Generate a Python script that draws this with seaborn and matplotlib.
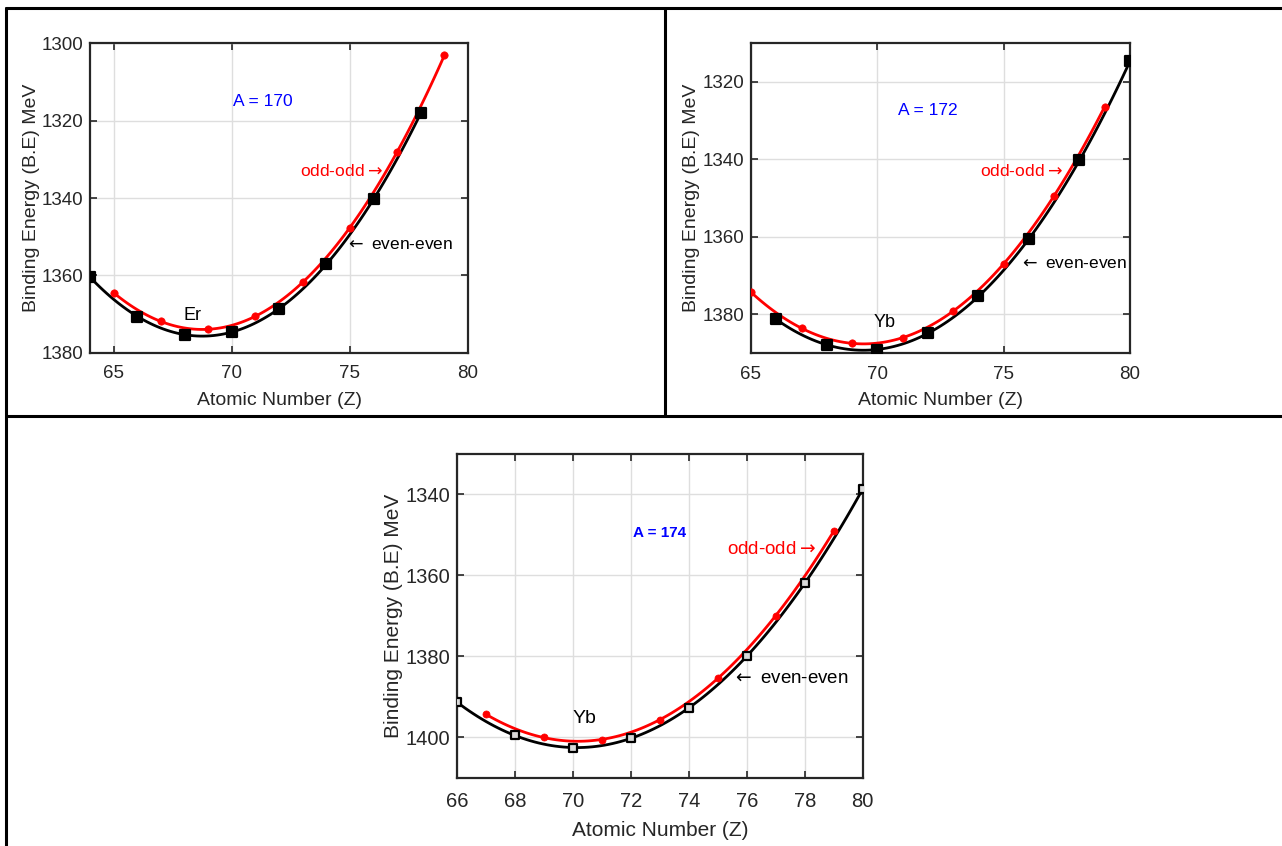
import numpy as np
import pandas as pd
import seaborn as sns
import matplotlib.pyplot as plt
from matplotlib.lines import Line2D

# A = 170
z_ee_170 = [64, 66, 68, 70, 72, 74, 76, 78]
be_ee_170 = [1360.4, 1370.7, 1375.3, 1374.7, 1368.6, 1357.1, 1340.3, 1318.1]
z_oo_170 = [65, 67, 69, 71, 73, 75, 77, 79]
be_oo_170 = [1364.5, 1371.9, 1374.0, 1370.5, 1361.8, 1347.7, 1328.0, 1303.1]

# A = 172
z_ee_172 = [66, 68, 70, 72, 74, 76, 78, 80]
be_ee_172 = [1381.3, 1387.9, 1389.1, 1384.9, 1375.4, 1360.5, 1340.3, 1314.7]
z_oo_172 = [65, 67, 69, 71, 73, 75, 77, 79]
be_oo_172 = [1374.3, 1383.6, 1387.5, 1386.0, 1379.2, 1367.0, 1349.4, 1326.4]

# A = 174
z_ee_174 = [66, 68, 70, 72, 74, 76, 78, 80]
be_ee_174 = [1391.3, 1399.5, 1402.5, 1400.2, 1392.6, 1380.0, 1361.9, 1338.6]
z_oo_174 = [67, 69, 71, 73, 75, 77, 79]
be_oo_174 = [1394.3, 1400.0, 1400.5, 1395.6, 1385.3, 1370.0, 1349.0]

sns.set_theme(style="ticks")
plt.rcParams['font.family'] = ['Liberation Sans', 'DejaVu Sans']
plt.rcParams['mathtext.fontset'] = 'dejavusans'

fig = plt.figure(figsize=(12.82, 8.46), dpi=100)

# table-like frame around the panels
frame = dict(color='black', lw=2.2, transform=fig.transFigure)
fig.add_artist(Line2D([6 / 1282, 6 / 1282], [0, 1 - 8.5 / 846], **frame))
fig.add_artist(Line2D([6 / 1282, 1], [1 - 8.5 / 846, 1 - 8.5 / 846], **frame))
fig.add_artist(Line2D([6 / 1282, 1], [1 - 416.5 / 846, 1 - 416.5 / 846], **frame))
fig.add_artist(Line2D([665 / 1282, 665 / 1282], [1 - 416.5 / 846, 1 - 8.5 / 846], **frame))


def draw_panel(rect, z_ee, be_ee, z_oo, be_oo, xlim, ylim, xticks, yticks, fs,
               sq_face, sq_size, ci_size, texts, xpad=9, ylabpad=1, xlabpad=7):
    ax = fig.add_axes(rect)
    ee = pd.DataFrame({'Z': z_ee, 'BE': be_ee})
    oo = pd.DataFrame({'Z': z_oo, 'BE': be_oo})

    sns.regplot(data=ee, x='Z', y='BE', order=2, ci=None, scatter=False, ax=ax,
                line_kws={'color': 'black', 'lw': 2.0, 'zorder': 3})
    sns.regplot(data=oo, x='Z', y='BE', order=2, ci=None, scatter=False, ax=ax,
                line_kws={'color': 'red', 'lw': 2.0, 'zorder': 4})
    sns.scatterplot(data=ee, x='Z', y='BE', marker='s', s=sq_size, color=sq_face,
                    edgecolor='black', linewidth=1.6, ax=ax, zorder=5)
    sns.scatterplot(data=oo, x='Z', y='BE', marker='o', s=ci_size, color='red',
                    edgecolor='red', linewidth=0.5, ax=ax, zorder=6)

    ax.set_xlim(*xlim)
    ax.set_ylim(*ylim)
    ax.set_xticks(xticks)
    ax.set_yticks(yticks)
    ax.grid(True, color='#dedede', lw=1.0)
    ax.set_axisbelow(True)
    ax.tick_params(direction='in', length=5, width=1.2, top=True, right=True,
                   labelsize=fs, colors='#262626')
    ax.tick_params(axis='x', pad=xpad)
    ax.tick_params(axis='y', pad=5)
    for sp in ax.spines.values():
        sp.set_color('#262626')
        sp.set_linewidth(1.6)
    ax.set_xlabel('Atomic Number (Z)', fontsize=fs + 0.5, color='#262626', labelpad=xlabpad)
    ax.set_ylabel('Binding Energy (B.E) MeV', fontsize=fs + 0.5, color='#262626',
                  labelpad=ylabpad)

    for x, y, s, kw in texts:
        ax.text(x, y, s, va='center', **kw)
    return ax


draw_panel([0.0702, 0.5831, 0.2949, 0.3657],
           z_ee_170, be_ee_170, z_oo_170, be_oo_170,
           (64, 80), (1380, 1300), [65, 70, 75, 80], [1300, 1320, 1340, 1360, 1380],
           13.5, 'black', 44, 28,
           [(71.3, 1315.1, 'A = 170', dict(ha='center', color='blue', fontsize=12.5)),
            (72.9, 1333.0, r'odd-odd$\rightarrow$', dict(ha='left', color='red', fontsize=12.5)),
            (74.8, 1352.0, r'$\leftarrow$ even-even', dict(ha='left', color='black', fontsize=12.5)),
            (68.35, 1370.3, 'Er', dict(ha='center', color='black', fontsize=13))])

draw_panel([0.5858, 0.5827, 0.2956, 0.3664],
           z_ee_172, be_ee_172, z_oo_172, be_oo_172,
           (65, 80), (1390, 1310), [65, 70, 75, 80], [1320, 1340, 1360, 1380],
           13.5, 'black', 44, 28,
           [(72.0, 1327.5, 'A = 172', dict(ha='center', color='blue', fontsize=12.5)),
            (74.06, 1343.0, r'odd-odd$\rightarrow$', dict(ha='left', color='red', fontsize=12.5)),
            (75.6, 1366.9, r'$\leftarrow$ even-even', dict(ha='left', color='black', fontsize=12.5)),
            (70.28, 1382.1, 'Yb', dict(ha='center', color='black', fontsize=13))],
           ylabpad=1.5)

draw_panel([0.3565, 0.0804, 0.3165, 0.3830],
           z_ee_174, be_ee_174, z_oo_174, be_oo_174,
           (66, 80), (1410, 1330), list(range(66, 81, 2)), [1340, 1360, 1380, 1400],
           14.5, '#d9d9d9', 36, 26,
           [(72.98, 1349.6, 'A = 174', dict(ha='center', color='blue', fontsize=11,
                                            fontweight='bold')),
            (75.3, 1353.7, r'odd-odd$\rightarrow$', dict(ha='left', color='red', fontsize=13.5)),
            (75.5, 1385.5, r'$\leftarrow$ even-even', dict(ha='left', color='black', fontsize=13.5)),
            (70.4, 1395.4, 'Yb', dict(ha='center', color='black', fontsize=14))],
           xpad=10, ylabpad=2, xlabpad=7)

fig.savefig('out.png', dpi=100)
